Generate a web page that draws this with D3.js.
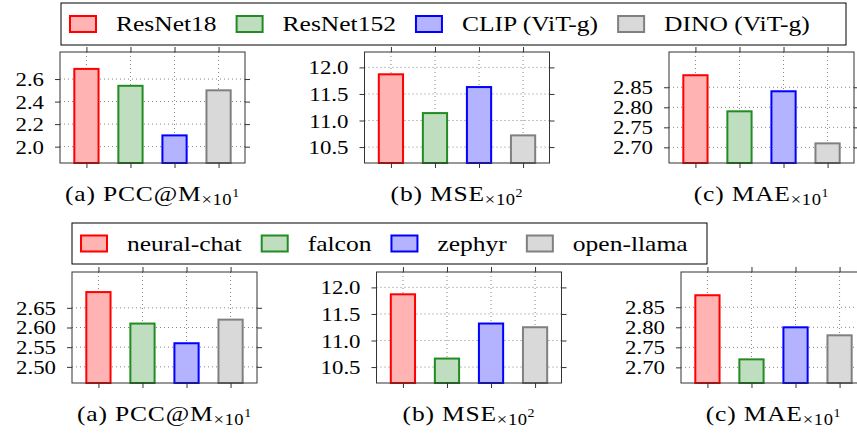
<!DOCTYPE html>
<html>
<head>
<meta charset="utf-8">
<script src="https://cdn.jsdelivr.net/npm/d3@7"></script>
<style>
  body { margin: 0; background: #fff; }
  svg { display: block; }
</style>
</head>
<body>
<script>
// data
const imageModels = ['ResNet18', 'ResNet152', 'CLIP (ViT-g)', 'DINO (ViT-g)']
const textModels = ['neural-chat', 'falcon', 'zephyr', 'open-llama']

const pccImage = [2.69, 2.54, 2.10, 2.50]
const mseImage = [11.87, 11.14, 11.63, 10.72]
const maeImage = [2.88, 2.79, 2.84, 2.71]

const pccText = [2.69, 2.61, 2.56, 2.62]
const mseText = [11.87, 10.66, 11.32, 11.25]
const maeText = [2.88, 2.72, 2.80, 2.78]

const pccTicksImage = [2.0, 2.2, 2.4, 2.6]
const pccTicksText = [2.50, 2.55, 2.60, 2.65]
const mseTicks = [10.5, 11.0, 11.5, 12.0]
const maeTicks = [2.70, 2.75, 2.80, 2.85]

const subtitles = [
  ['(a) PCC@M', '\u00d710', '1'],
  ['(b) MSE', '\u00d710', '2'],
  ['(c) MAE', '\u00d710', '1']
]

const fills = ['#ffb3b3', '#bfddbf', '#b3b3ff', '#d9d9d9']
const strokes = ['#ff0000', '#228b22', '#0000ff', '#808080']

const width = 857
const height = 435
const serif = "'Liberation Serif', 'Times New Roman', serif"
const sx = 1.16   // the figure's text runs wider than Times

const svg = d3.select('body').append('svg')
  .attr('width', width)
  .attr('height', height)

svg.append('rect').attr('width', width).attr('height', height).attr('fill', '#fff')

function legend(x0, y0, w, h, names) {
  const g = svg.append('g').attr('transform', `translate(${x0},${y0})`)
  g.append('rect')
    .attr('width', w).attr('height', h)
    .attr('fill', '#fff').attr('stroke', '#000').attr('stroke-width', 1)
  let x = 9
  names.forEach((name, i) => {
    g.append('rect')
      .attr('x', x).attr('y', h / 2 - 8)
      .attr('width', 26).attr('height', 16)
      .attr('fill', fills[i]).attr('stroke', strokes[i]).attr('stroke-width', 2)
    const t = g.append('text')
      .attr('transform', `translate(${x + 46},${h / 2 + 7}) scale(${sx},1)`)
      .style('font-family', serif)
      .style('font-size', '22px')
      .text(name)
    x += 46 + t.node().getComputedTextLength() * sx + 20
  })
}

function panel(x0, y0, values, domain, ticks, fmt, sub) {
  const w = 185
  const h = 111
  const xScale = d3.scaleLinear().domain([-0.6, 3.6]).range([x0, x0 + w])
  const yScale = d3.scaleLinear().domain(domain).range([y0 + h, y0])
  const idx = d3.range(values.length)
  const g = svg.append('g')

  // dotted grid
  g.selectAll('.hgrid').data(ticks).enter().append('line')
    .attr('x1', x0).attr('x2', x0 + w)
    .attr('y1', d => yScale(d)).attr('y2', d => yScale(d))
    .attr('stroke', '#777').attr('stroke-width', 0.9).attr('stroke-dasharray', '1,3')
  g.selectAll('.vgrid').data(idx).enter().append('line')
    .attr('x1', d => xScale(d)).attr('x2', d => xScale(d))
    .attr('y1', y0).attr('y2', y0 + h)
    .attr('stroke', '#777').attr('stroke-width', 0.9).attr('stroke-dasharray', '1,3')

  // bars
  const bw = xScale(0.55) - xScale(0)
  g.selectAll('.bar').data(values).enter().append('rect')
    .attr('x', (d, i) => xScale(i) - bw / 2)
    .attr('y', d => yScale(d))
    .attr('width', bw)
    .attr('height', d => yScale(domain[0]) - yScale(d))
    .attr('fill', (d, i) => fills[i])
    .attr('stroke', (d, i) => strokes[i])
    .attr('stroke-width', 2)

  // axes
  const tsx = 1.27
  const left = g.append('g').attr('transform', `translate(${x0},0)`)
    .call(d3.axisLeft(yScale).tickValues(ticks).tickFormat(d3.format(fmt)).tickSize(5).tickPadding(11))
  left.selectAll('text')
    .attr('x', -16 / tsx)
    .attr('dy', '0.36em')
    .attr('transform', `scale(${tsx},1)`)
    .attr('fill', '#000')
    .style('font-family', serif)
    .style('font-size', '18px')
  g.append('g').attr('transform', `translate(${x0 + w},0)`)
    .call(d3.axisRight(yScale).tickValues(ticks).tickFormat('').tickSize(5))
  g.append('g').attr('transform', `translate(0,${y0})`)
    .call(d3.axisTop(xScale).tickValues(idx).tickFormat('').tickSize(5))
  g.append('g').attr('transform', `translate(0,${y0 + h})`)
    .call(d3.axisBottom(xScale).tickValues(idx).tickFormat('').tickSize(5))
  g.selectAll('.domain').remove()
  g.selectAll('.tick line').attr('stroke', '#333')

  g.append('rect')
    .attr('x', x0).attr('y', y0).attr('width', w).attr('height', h)
    .attr('fill', 'none').attr('stroke', '#333').attr('stroke-width', 1)

  // caption below the panel
  const cap = g.append('text')
    .attr('transform', `translate(${x0 + w / 2},${y0 + h + 38}) scale(${sx},1)`)
    .attr('text-anchor', 'middle')
    .style('font-family', serif)
    .style('font-size', '22px')
    .style('letter-spacing', '0.7px')
  cap.append('tspan').text(sub[0])
  cap.append('tspan').attr('dy', 4).style('font-size', '16px').style('letter-spacing', '0.5px').text(sub[1])
  cap.append('tspan').attr('dy', -8).style('font-size', '12px').text(sub[2])
}

legend(61, 3, 785, 42, imageModels)
panel(60, 52, pccImage, [1.855, 2.84], pccTicksImage, '.1f', subtitles[0])
panel(364.5, 52, mseImage, [10.2, 12.29], mseTicks, '.1f', subtitles[1])
panel(669, 52, maeImage, [2.661, 2.938], maeTicks, '.2f', subtitles[2])

legend(72, 223, 635, 41, textModels)
panel(72, 272, pccText, [2.459, 2.741], pccTicksText, '.2f', subtitles[0])
panel(376.5, 272, mseText, [10.2, 12.29], mseTicks, '.1f', subtitles[1])
panel(681, 272, maeText, [2.661, 2.938], maeTicks, '.2f', subtitles[2])
</script>
</body>
</html>
